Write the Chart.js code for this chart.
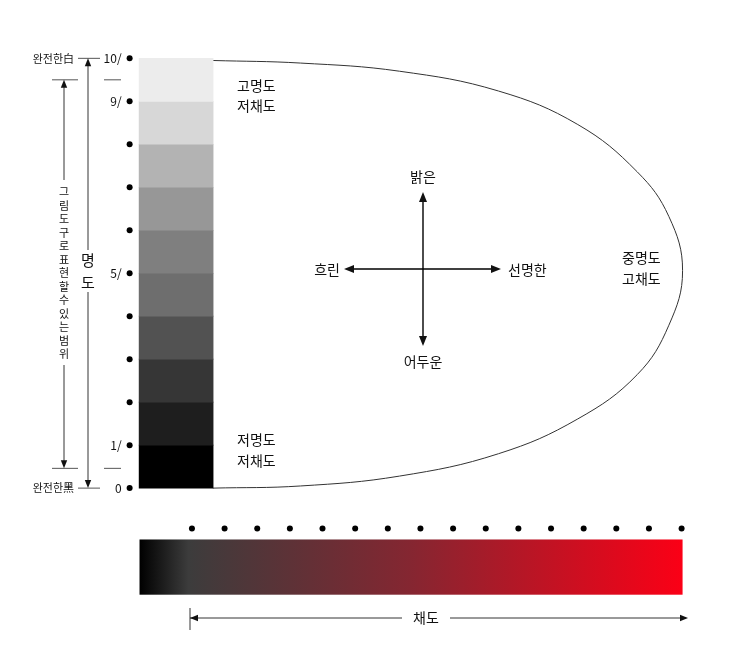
<!DOCTYPE html>
<html><head><meta charset="utf-8">
<script src="https://cdn.jsdelivr.net/npm/chart.js@4.4.0/dist/chart.umd.min.js"></script>
<style>html,body{margin:0;background:#fff}#wrap{width:740px;height:666px}</style>
</head><body><div id="wrap"><canvas id="c"></canvas></div>
<script>
// ===== Datos =====
// x = 채도 (chroma steps), y = 명도 (value 0..10)
const valueLevels = [0, 1, 2, 3, 4, 5, 6, 7, 8, 9, 10];
const valueTickLabels = { 10: "10/", 9: "9/", 5: "5/", 1: "1/", 0: "0" };
const grayColors = ["#000000", "#1e1e1e", "#363636", "#525252", "#6e6e6e", "#7f7f7f", "#979797", "#b3b3b3", "#d7d7d7", "#ececec"];
const chromaSteps = [0, 1, 2, 3, 4, 5, 6, 7, 8, 9, 10, 11, 12, 13, 14, 15];
const gamutX = [0.64, 3.33, 6.36, 9.39, 11.82, 13.64, 14.61, 15.03, 14.61, 13.64, 11.82, 9.39, 6.36, 3.33, 0.64];
const gamutY = [9.95, 9.89, 9.70, 9.24, 8.46, 7.36, 6.32, 5.06, 3.79, 2.64, 1.61, 0.80, 0.28, 0.05, 0];

const grayBarX = -0.485;
const valueDotX = -1.909;
const chromaDotY = -0.94;

// ===== Dibujo extra =====
const extras = {
  id: "extras",
  beforeDatasetsDraw(ch) {
    const { ctx } = ch;
    const x = ch.scales.x, y = ch.scales.y;
    // barra de chroma
    const x0 = x.getPixelForValue(-1.606), x1 = x.getPixelForValue(15.03);
    const y0 = y.getPixelForValue(-1.195), y1 = y.getPixelForValue(-2.48);
    const g = ctx.createLinearGradient(x0, 0, x1, 0);
    g.addColorStop(0, "#000000");
    g.addColorStop(0.09, "#3c3c3c");
    g.addColorStop(0.5, "#852631");
    g.addColorStop(1, "#fb0016");
    ctx.fillStyle = g;
    ctx.fillRect(x0, y0, x1 - x0, y1 - y0);
  },
  afterDatasetsDraw(ch) {
    const { ctx } = ch;
    const x = ch.scales.x, y = ch.scales.y;
    ctx.save();
    ctx.strokeStyle = "#000"; ctx.fillStyle = "#111"; ctx.lineWidth = 1;
    const line = (a, b, c, d) => { ctx.beginPath(); ctx.moveTo(a, b); ctx.lineTo(c, d); ctx.stroke(); };
    const head = (px, py, dx, dy, s) => {
      ctx.beginPath();
      ctx.moveTo(px, py);
      ctx.lineTo(px - dx * s + dy * s * 0.4, py - dy * s + dx * s * 0.4);
      ctx.lineTo(px - dx * s - dy * s * 0.4, py - dy * s - dx * s * 0.4);
      ctx.closePath(); ctx.fill();
    };
    const yTop = y.getPixelForValue(10), yBot = y.getPixelForValue(0);
    const yIn1 = y.getPixelForValue(9.5), yIn0 = y.getPixelForValue(0.46);

    // etiquetas del eje de valor
    ctx.font = "12px 'Noto Sans CJK KR', sans-serif";
    ctx.textAlign = "right"; ctx.textBaseline = "middle";
    valueLevels.forEach(v => {
      if (valueTickLabels[v]) ctx.fillText(valueTickLabels[v], x.getPixelForValue(valueDotX) - 8, y.getPixelForValue(v));
    });
    ctx.font = "11px 'Noto Sans CJK KR', sans-serif";
    ctx.fillText("완전한白", 74, yTop);
    ctx.fillText("완전한黑", 74, yBot);
    ctx.strokeStyle = "#555";
    line(78, yTop, 100, yTop); line(78, yBot, 100, yBot);
    line(52, yIn1, 78, yIn1); line(104, yIn1, 121, yIn1);
    line(52, yIn0, 78, yIn0); line(104, yIn0, 121, yIn0);
    ctx.strokeStyle = "#000";

    // flecha 명도
    ctx.lineWidth = 0.8;
    line(88, yTop + 6, 88, 250); line(88, 292, 88, yBot - 6);
    head(88, yTop, 0, -1, 8); head(88, yBot, 0, 1, 8);
    ctx.font = "15px 'Noto Sans CJK KR', sans-serif";
    ctx.textAlign = "center";
    ctx.fillText("명", 88, 260); ctx.fillText("도", 88, 282);

    // flecha rango
    line(64, yIn1 + 6, 64, 180); line(64, 365, 64, yIn0 - 6);
    head(64, yIn1, 0, -1, 8); head(64, yIn0, 0, 1, 8);
    ctx.font = "11px 'Noto Sans CJK KR', sans-serif";
    const vtxt = "그림도구로표현할수있는범위";
    for (let i = 0; i < vtxt.length; i++) ctx.fillText(vtxt[i], 64, 192 + i * 13.5);

    // textos internos
    ctx.font = "14px 'Noto Sans CJK KR', sans-serif";
    ctx.textAlign = "left";
    ctx.fillText("고명도", 237, 86); ctx.fillText("저채도", 237, 106);
    ctx.fillText("저명도", 237, 440); ctx.fillText("저채도", 237, 461);
    ctx.fillText("중명도", 622, 258); ctx.fillText("고채도", 622, 279);
    ctx.textAlign = "center";
    ctx.fillText("밝은", 423, 177);
    ctx.fillText("어두운", 423, 362);
    ctx.textAlign = "right"; ctx.fillText("흐린", 340, 270);
    ctx.textAlign = "left"; ctx.fillText("선명한", 508, 270);

    // cruz
    ctx.lineWidth = 1.4;
    line(423, 198, 423, 340); head(423, 192, 0, -1, 10); head(423, 346, 0, 1, 10);
    line(350, 269, 495, 269); head(344, 269, -1, 0, 10); head(501, 269, 1, 0, 10);

    // flecha 채도
    ctx.lineWidth = 0.8;
    const cy = 618;
    line(190, 608, 190, 630);
    line(190, cy, 402, cy); line(450, cy, 686, cy);
    head(190, cy, -1, 0, 8); head(688, cy, 1, 0, 8);
    ctx.textAlign = "center";
    ctx.font = "14px 'Noto Sans CJK KR', sans-serif";
    ctx.fillText("채도", 426, cy);
    ctx.restore();
  }
};

// ===== Chart =====
const grayBars = grayColors.map((c, i) => ({ x: grayBarX, y: [valueLevels[i], valueLevels[i + 1]] }));

new Chart(document.getElementById("c"), {
  data: {
    datasets: [
      {
        type: "bar", data: grayBars, backgroundColor: grayColors,
        barThickness: 74, grouped: false, borderWidth: 0
      },
      {
        type: "line", data: gamutX.map((v, i) => ({ x: v, y: gamutY[i] })),
        borderColor: "#333", borderWidth: 1, pointRadius: 0, tension: 0.4, fill: false
      },
      {
        type: "scatter", data: valueLevels.map(v => ({ x: valueDotX, y: v })),
        pointRadius: 3, backgroundColor: "#000", borderWidth: 0
      },
      {
        type: "scatter", data: chromaSteps.map(c => ({ x: c, y: chromaDotY })),
        pointRadius: 3, backgroundColor: "#000", borderWidth: 0
      }
    ]
  },
  options: {
    responsive: true, maintainAspectRatio: false, animation: false,
    layout: { padding: 0 },
    scales: {
      x: { type: "linear", display: false, offset: false, min: -190 / 33, max: 550 / 33 },
      y: { type: "linear", display: false, min: -176 / 43.5, max: 490 / 43.5 }
    },
    plugins: { legend: { display: false }, tooltip: { enabled: false } }
  },
  plugins: [extras]
});
</script></body></html>
